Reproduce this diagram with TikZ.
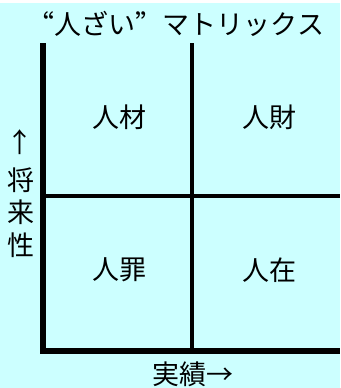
\documentclass[tikz,border=0pt]{standalone}
\usepackage{fontspec}
\setmainfont{Noto Sans CJK JP}
\newfontfamily\fwfont[CharacterWidth=Full]{Noto Sans CJK JP}
\definecolor{bgc}{HTML}{CCFFFF}
\begin{document}
\begin{tikzpicture}[x=1pt,y=-1pt,
  lbl/.style={font=\fontsize{27}{27}\selectfont, inner sep=0pt, anchor=center},
  thick axis/.style={line width=6pt, line cap=butt},
  thin axis/.style={line width=4pt, line cap=butt}]
\fill[white] (0,0) rectangle (340,388);
\fill[bgc] (0,3) rectangle (340,388);
\useasboundingbox (0,0) rectangle (340,388);
\node[lbl, font=\fontsize{27}{27}\fwfont] (title) at (176,24) {“人ざい”マトリックス};
\coordinate (tl) at (43,43);
\coordinate (bl) at (43,351);
\coordinate (br) at (340,351);
\coordinate (mt) at (192,43);
\coordinate (mb) at (192,348);
\coordinate (ml) at (46,196);
\coordinate (mr) at (340,196);
\draw[thin axis] (mt) -- (mb);
\draw[thin axis] (ml) -- (mr);
\draw[thick axis] (tl) -- (bl) -- (br);
\node[lbl] (q1) at (119,117) {人材};
\node[lbl] (q2) at (269,117) {人財};
\node[lbl] (q3) at (119,270) {人罪};
\node[lbl] (q4) at (269,270) {人在};
\node[lbl] (ya) at (20,142) {↑};
\node[lbl] (y1) at (21,180) {将};
\node[lbl] (y2) at (21,212) {来};
\node[lbl] (y3) at (21,245) {性};
\node[lbl] (xl) at (193,374) {実績→};
\end{tikzpicture}
\end{document}
